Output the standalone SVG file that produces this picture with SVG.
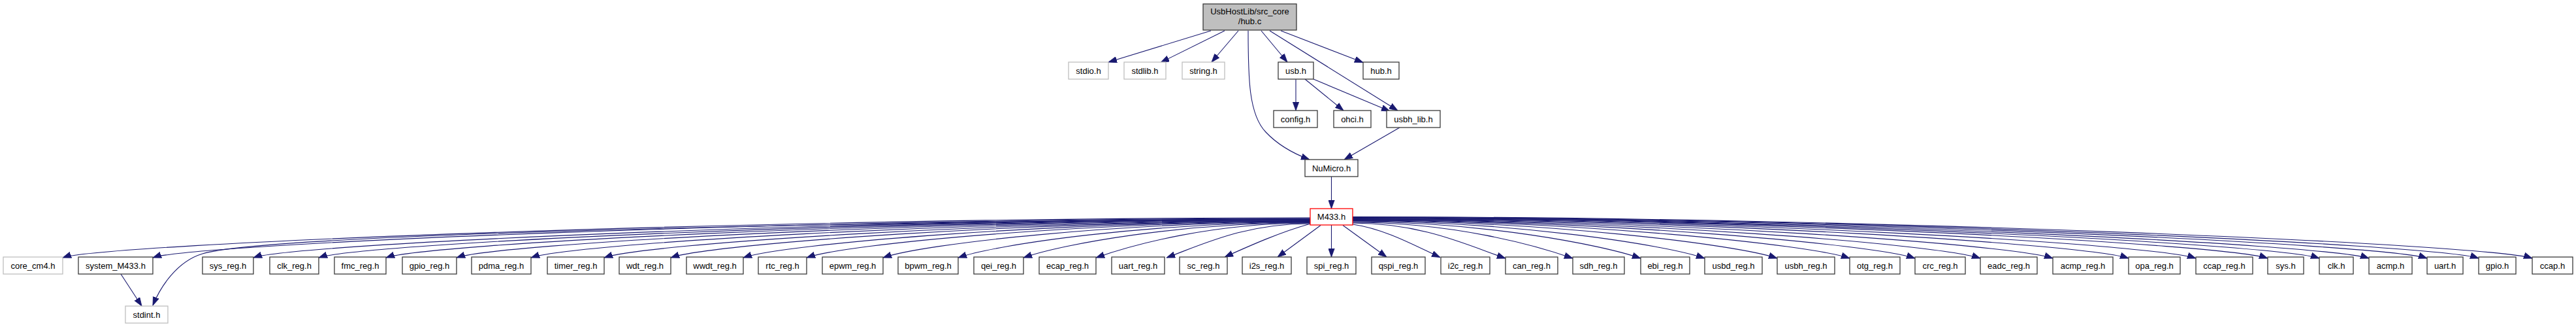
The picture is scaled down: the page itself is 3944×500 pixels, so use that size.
<svg xmlns="http://www.w3.org/2000/svg" width="3944" height="500" viewBox="0 0 3944 500">
<defs>
<style>
rect{stroke-width:1.3}
.n rect{fill:#ffffff;stroke:#3a3a3a}
.x rect{fill:#ffffff;stroke:#bfbfbf}
.r rect{fill:#ffffff;stroke:#ff0000}
.root rect{fill:#bfbfbf;stroke:#3a3a3a}
text{font-family:"Liberation Sans",Arial,Helvetica,sans-serif;font-size:13px;fill:#000;text-anchor:middle}
#edges path{fill:none;stroke:#191970;stroke-width:1.1;marker-end:url(#ah)}
</style>
<marker id="ah" viewBox="0 0 13 10" refX="13" refY="5" markerWidth="13" markerHeight="10" markerUnits="userSpaceOnUse" orient="auto">
<path d="M0,0.3 L13,5 L0,9.7 z" fill="#191970" stroke="#191970" stroke-width="0.8"/>
</marker>
</defs>
<rect width="3944" height="500" fill="#ffffff"/>
<g id="edges">
<path d="M1854,47 L1697,95"/>
<path d="M1875,47 L1777,95.5"/>
<path d="M1896,47 L1855,95"/>
<path d="M1911,47 C1911,120 1912,175 1938,202 C1955,220 1978,234 2005,244"/>
<path d="M1931,47 L1971,95"/>
<path d="M1944,47 L2140,169"/>
<path d="M1961,47 L2087,95.5"/>
<path d="M1984,121 L1984,169"/>
<path d="M1998,121 L2057,169"/>
<path d="M2011,121 L2128,170"/>
<path d="M2143,195 L2058,244"/>
<path d="M2038.5,270 L2038.5,319"/>
<path d="M185,419 L217,468"/>
<path d="M2006,334 C1200,340 400,360 310,388 C270,400 245,440 234,467"/>
<path d="M2006,333 C1146,333 156,373 96,394"/>
<path d="M2006,334 C1209,334 294,373 234,394"/>
<path d="M2006,335 C1278,335 448,373 388,394"/>
<path d="M2006,335.5 C1323,335.5 548,373 488,394"/>
<path d="M2006,336 C1369,336 651,373 591,394"/>
<path d="M2006,336.5 C1418,336.5 759,373 699,394"/>
<path d="M2006,337 C1469,337 873,373 813,394"/>
<path d="M2006,337.5 C1520,337.5 985,373 925,394"/>
<path d="M2006,338 C1565,338 1087,373 1027,394"/>
<path d="M2006,338.5 C1615,338.5 1198,373 1138,394"/>
<path d="M2006,339 C1659,339 1295,373 1235,394"/>
<path d="M2006,339.5 C1712,339.5 1412,373 1352,394"/>
<path d="M2006,340 C1763,340 1527,373 1467,394"/>
<path d="M2006,340.5 C1808,340.5 1627,373 1567,394"/>
<path d="M2006,341 C1858,341 1738,373 1678,394"/>
<path d="M2006,342 C1906,342 1843,373 1786,394"/>
<path d="M2006.5,342 C1960,355 1915,375 1875,393"/>
<path d="M2022,344.5 L1956,393"/>
<path d="M2038.5,344 L2038.5,393"/>
<path d="M2056,344.5 L2123,393"/>
<path d="M2071,343 C2120,350 2165,375 2205,393.5"/>
<path d="M2071,341 C2176,341 2245,374 2305,395"/>
<path d="M2071,340 C2223,340 2348,374 2408,395"/>
<path d="M2071,339 C2269,339 2452,374 2512,395"/>
<path d="M2071,338 C2314,338 2550,374 2610,395"/>
<path d="M2071,337.5 C2364,337.5 2661,374 2721,395"/>
<path d="M2071,337 C2413,337 2772,374 2832,395"/>
<path d="M2071,336.5 C2458,336.5 2872,374 2932,395"/>
<path d="M2071,336 C2503,336 2972,374 3032,395"/>
<path d="M2071,335.5 C2553,335.5 3083,374 3143,395"/>
<path d="M2071,335 C2606,335 3199,374 3259,395"/>
<path d="M2071,334.5 C2652,334.5 3302,374 3362,395"/>
<path d="M2071,334 C2701,334 3412,374 3472,395"/>
<path d="M2071,333.5 C2737,333.5 3491,374 3551,395"/>
<path d="M2071,333 C2771,333 3567,374 3627,395"/>
<path d="M2071,332.5 C2811,332.5 3656,374 3716,395"/>
<path d="M2071,332 C2847,332 3735,374 3795,395"/>
<path d="M2071,331.5 C2884,331.5 3817,374 3877,395"/>
</g>
<g id="node_hub_c" class="root"><rect x="1842" y="6" width="143" height="40"/><text x="1913.5" y="22">UsbHostLib/src_core</text><text x="1913.5" y="37">/hub.c</text></g>
<g id="node_stdio_h" class="x"><rect x="1636" y="95" width="61" height="26"/><text x="1666.5" y="112.5">stdio.h</text></g>
<g id="node_stdlib_h" class="x"><rect x="1721" y="95" width="64" height="26"/><text x="1753" y="112.5">stdlib.h</text></g>
<g id="node_string_h" class="x"><rect x="1810" y="95" width="65" height="26"/><text x="1842.5" y="112.5">string.h</text></g>
<g id="node_usb_h" class="n"><rect x="1957" y="95" width="54" height="26"/><text x="1984" y="112.5">usb.h</text></g>
<g id="node_hub_h" class="n"><rect x="2087" y="95" width="55" height="26"/><text x="2114.5" y="112.5">hub.h</text></g>
<g id="node_config_h" class="n"><rect x="1950" y="169" width="67" height="26"/><text x="1983.5" y="186.5">config.h</text></g>
<g id="node_ohci_h" class="n"><rect x="2042" y="169" width="57" height="26"/><text x="2070.5" y="186.5">ohci.h</text></g>
<g id="node_usbh_lib_h" class="n"><rect x="2123" y="169" width="82" height="26"/><text x="2164" y="186.5">usbh_lib.h</text></g>
<g id="node_NuMicro_h" class="n"><rect x="1998" y="244" width="81" height="26"/><text x="2038.5" y="261.5">NuMicro.h</text></g>
<g id="node_M433_h" class="r"><rect x="2006" y="319" width="65" height="25"/><text x="2038.5" y="336">M433.h</text></g>
<g id="node_stdint_h" class="x"><rect x="192" y="468" width="65" height="26"/><text x="224.5" y="485.5">stdint.h</text></g>
<g id="node_core_cm4_h" class="x"><rect x="5" y="393" width="91" height="26"/><text x="50.5" y="410.5">core_cm4.h</text></g>
<g id="node_system_M433_h" class="n"><rect x="120" y="393" width="114" height="26"/><text x="177" y="410.5">system_M433.h</text></g>
<g id="node_sys_reg_h" class="n"><rect x="310" y="393" width="78" height="26"/><text x="349" y="410.5">sys_reg.h</text></g>
<g id="node_clk_reg_h" class="n"><rect x="413" y="393" width="75" height="26"/><text x="450.5" y="410.5">clk_reg.h</text></g>
<g id="node_fmc_reg_h" class="n"><rect x="512" y="393" width="79" height="26"/><text x="551.5" y="410.5">fmc_reg.h</text></g>
<g id="node_gpio_reg_h" class="n"><rect x="616" y="393" width="83" height="26"/><text x="657.5" y="410.5">gpio_reg.h</text></g>
<g id="node_pdma_reg_h" class="n"><rect x="722" y="393" width="91" height="26"/><text x="767.5" y="410.5">pdma_reg.h</text></g>
<g id="node_timer_reg_h" class="n"><rect x="838" y="393" width="87" height="26"/><text x="881.5" y="410.5">timer_reg.h</text></g>
<g id="node_wdt_reg_h" class="n"><rect x="948" y="393" width="79" height="26"/><text x="987.5" y="410.5">wdt_reg.h</text></g>
<g id="node_wwdt_reg_h" class="n"><rect x="1051" y="393" width="87" height="26"/><text x="1094.5" y="410.5">wwdt_reg.h</text></g>
<g id="node_rtc_reg_h" class="n"><rect x="1161" y="393" width="74" height="26"/><text x="1198" y="410.5">rtc_reg.h</text></g>
<g id="node_epwm_reg_h" class="n"><rect x="1259" y="393" width="93" height="26"/><text x="1305.5" y="410.5">epwm_reg.h</text></g>
<g id="node_bpwm_reg_h" class="n"><rect x="1375" y="393" width="92" height="26"/><text x="1421" y="410.5">bpwm_reg.h</text></g>
<g id="node_qei_reg_h" class="n"><rect x="1491" y="393" width="76" height="26"/><text x="1529" y="410.5">qei_reg.h</text></g>
<g id="node_ecap_reg_h" class="n"><rect x="1591" y="393" width="87" height="26"/><text x="1634.5" y="410.5">ecap_reg.h</text></g>
<g id="node_uart_reg_h" class="n"><rect x="1702" y="393" width="81" height="26"/><text x="1742.5" y="410.5">uart_reg.h</text></g>
<g id="node_sc_reg_h" class="n"><rect x="1806" y="393" width="73" height="26"/><text x="1842.5" y="410.5">sc_reg.h</text></g>
<g id="node_i2s_reg_h" class="n"><rect x="1902" y="393" width="75" height="26"/><text x="1939.5" y="410.5">i2s_reg.h</text></g>
<g id="node_spi_reg_h" class="n"><rect x="2001" y="393" width="75" height="26"/><text x="2038.5" y="410.5">spi_reg.h</text></g>
<g id="node_qspi_reg_h" class="n"><rect x="2100" y="393" width="82" height="26"/><text x="2141" y="410.5">qspi_reg.h</text></g>
<g id="node_i2c_reg_h" class="n"><rect x="2206" y="393" width="75" height="26"/><text x="2243.5" y="410.5">i2c_reg.h</text></g>
<g id="node_can_reg_h" class="n"><rect x="2305" y="393" width="80" height="26"/><text x="2345" y="410.5">can_reg.h</text></g>
<g id="node_sdh_reg_h" class="n"><rect x="2408" y="393" width="79" height="26"/><text x="2447.5" y="410.5">sdh_reg.h</text></g>
<g id="node_ebi_reg_h" class="n"><rect x="2512" y="393" width="75" height="26"/><text x="2549.5" y="410.5">ebi_reg.h</text></g>
<g id="node_usbd_reg_h" class="n"><rect x="2610" y="393" width="88" height="26"/><text x="2654" y="410.5">usbd_reg.h</text></g>
<g id="node_usbh_reg_h" class="n"><rect x="2721" y="393" width="88" height="26"/><text x="2765" y="410.5">usbh_reg.h</text></g>
<g id="node_otg_reg_h" class="n"><rect x="2832" y="393" width="77" height="26"/><text x="2870.5" y="410.5">otg_reg.h</text></g>
<g id="node_crc_reg_h" class="n"><rect x="2932" y="393" width="77" height="26"/><text x="2970.5" y="410.5">crc_reg.h</text></g>
<g id="node_eadc_reg_h" class="n"><rect x="3032" y="393" width="87" height="26"/><text x="3075.5" y="410.5">eadc_reg.h</text></g>
<g id="node_acmp_reg_h" class="n"><rect x="3143" y="393" width="92" height="26"/><text x="3189" y="410.5">acmp_reg.h</text></g>
<g id="node_opa_reg_h" class="n"><rect x="3259" y="393" width="79" height="26"/><text x="3298.5" y="410.5">opa_reg.h</text></g>
<g id="node_ccap_reg_h" class="n"><rect x="3362" y="393" width="87" height="26"/><text x="3405.5" y="410.5">ccap_reg.h</text></g>
<g id="node_sys_h" class="n"><rect x="3472" y="393" width="55" height="26"/><text x="3499.5" y="410.5">sys.h</text></g>
<g id="node_clk_h" class="n"><rect x="3551" y="393" width="52" height="26"/><text x="3577" y="410.5">clk.h</text></g>
<g id="node_acmp_h" class="n"><rect x="3627" y="393" width="66" height="26"/><text x="3660" y="410.5">acmp.h</text></g>
<g id="node_uart_h" class="n"><rect x="3716" y="393" width="55" height="26"/><text x="3743.5" y="410.5">uart.h</text></g>
<g id="node_gpio_h" class="n"><rect x="3795" y="393" width="57" height="26"/><text x="3823.5" y="410.5">gpio.h</text></g>
<g id="node_ccap_h" class="n"><rect x="3877" y="393" width="62" height="26"/><text x="3908" y="410.5">ccap.h</text></g>
</svg>
